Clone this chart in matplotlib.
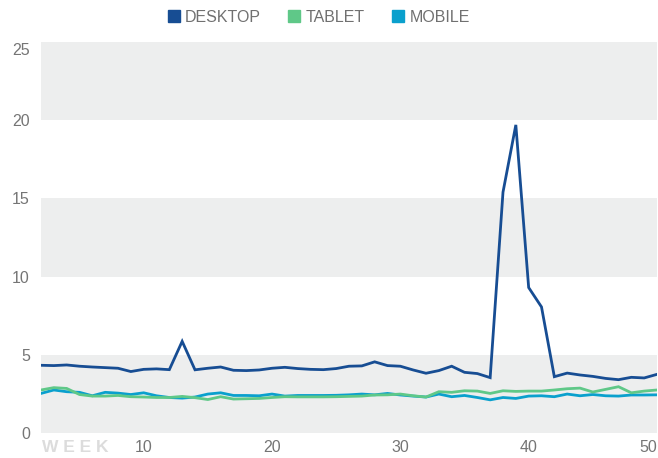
import matplotlib
matplotlib.use("Agg")
import matplotlib.pyplot as plt
import matplotlib.transforms as mtransforms
from matplotlib.lines import Line2D

plt.rcParams['font.family'] = ['Liberation Sans', 'DejaVu Sans']

weeks = list(range(2, 51))
desktop = [4.33, 4.31, 4.35, 4.27, 4.22, 4.18, 4.14, 3.93, 4.07, 4.10, 4.05, 5.86, 4.04,
           4.14, 4.22, 4.01, 3.99, 4.03, 4.14, 4.20, 4.12, 4.07, 4.05, 4.12, 4.27,
           4.29, 4.55, 4.31, 4.27, 4.03, 3.82, 3.99, 4.27, 3.88, 3.80, 3.54,
           15.4, 19.7, 9.3, 8.06, 3.6, 3.83, 3.71, 3.62, 3.49, 3.41, 3.56, 3.52, 3.75]
tablet = [2.75, 2.90, 2.85, 2.46, 2.36, 2.36, 2.40, 2.32, 2.30, 2.27, 2.27, 2.34, 2.26,
          2.14, 2.32, 2.17, 2.19, 2.21, 2.27, 2.32, 2.31, 2.31, 2.31, 2.32, 2.34,
          2.36, 2.43, 2.44, 2.49, 2.38, 2.30, 2.64, 2.60, 2.70, 2.68, 2.53,
          2.70, 2.66, 2.68, 2.68, 2.75, 2.83, 2.87, 2.62, 2.79, 2.96, 2.57, 2.68, 2.75]
mobile = [2.53, 2.75, 2.64, 2.60, 2.38, 2.60, 2.55, 2.46, 2.57, 2.38, 2.27, 2.23, 2.30,
          2.49, 2.57, 2.40, 2.40, 2.38, 2.49, 2.36, 2.40, 2.40, 2.40, 2.41, 2.44,
          2.49, 2.44, 2.53, 2.43, 2.36, 2.30, 2.49, 2.32, 2.40, 2.27, 2.12,
          2.27, 2.21, 2.36, 2.38, 2.32, 2.49, 2.38, 2.46, 2.38, 2.36, 2.43, 2.43, 2.44]

series = ['DESKTOP', 'TABLET', 'MOBILE']
colors = ['#174d93', '#5fc888', '#0aa0cd']
xticks = [10, 20, 30, 40, 50]
yticks = [0, 5, 10, 15, 20, 25]

fig = plt.figure(figsize=(6.58, 4.58), dpi=100)
ax = fig.add_axes([41 / 658, 25 / 458, 616 / 658, 391 / 458])

for lo in (0, 10, 20):
    ax.axhspan(lo, lo + 5, color='#edeeee', zorder=0, lw=0)

for vals, c in zip([desktop, tablet, mobile][::-1], colors[::-1]):
    ax.plot(weeks, vals, color=c, lw=2.0, zorder=3, solid_joinstyle='miter')

ax.set_xlim(2, 50)
ax.set_ylim(0, 25)
ax.set_xticks(xticks)
ax.set_yticks(yticks)
ax.tick_params(length=0, colors='#757575', labelsize=11.5)
ax.tick_params(axis='y', pad=8)
ax.tick_params(axis='x', pad=5)
ax.get_xticklabels()[-1].set_ha('right')
# top label sits a bit lower in the original
top = ax.get_yticklabels()[-1]
top.set_transform(top.get_transform() + mtransforms.ScaledTranslation(0, -7 / 100, fig.dpi_scale_trans))
for s in ax.spines.values():
    s.set_visible(False)

fig.text(42 / 658, 11 / 458, 'W E E K', color='#dcdcdc', fontsize=12.5,
         fontweight='bold', ha='left', va='center')

handles = [Line2D([], [], marker='s', ls='none', color=c, markersize=8) for c in colors]
fig.legend(handles, series, loc='center', bbox_to_anchor=(319 / 658, 1 - 17 / 458),
           ncol=3, frameon=False, fontsize=11.5, handlelength=0.7, handletextpad=0.35,
           columnspacing=1.75, labelcolor='#707070', borderaxespad=0)

fig.savefig('out.png', dpi=100)
